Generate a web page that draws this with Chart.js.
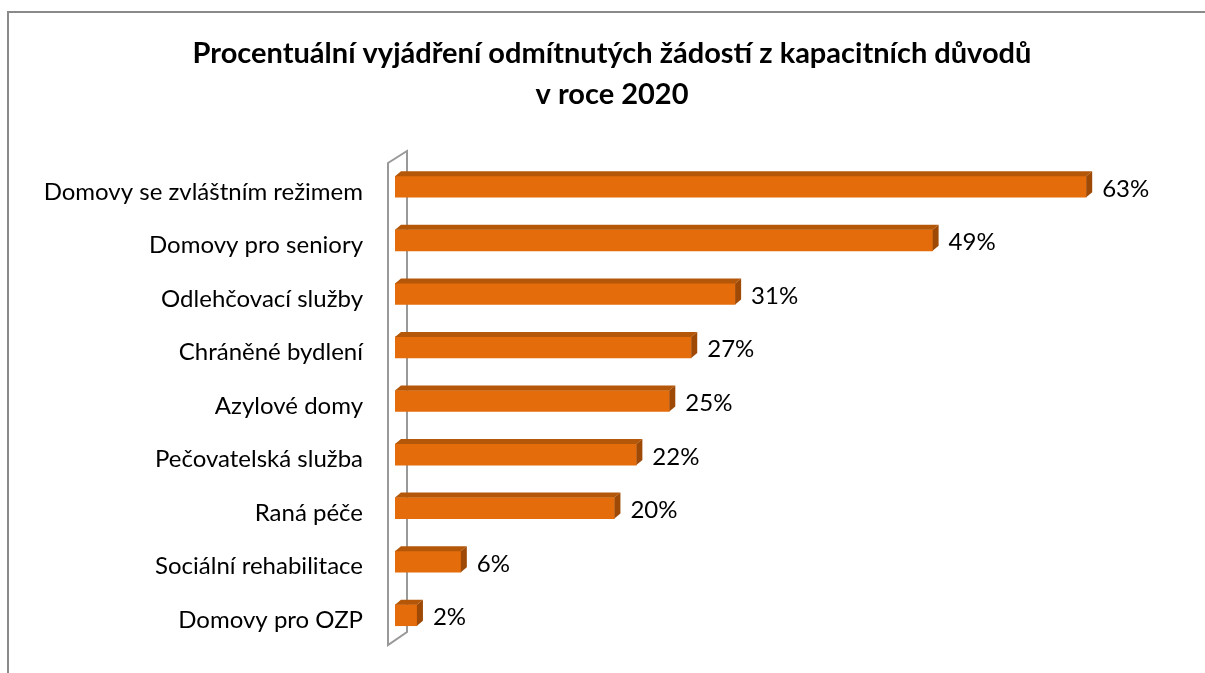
<!DOCTYPE html>
<html>
<head>
<meta charset="utf-8">
<script src="https://cdn.jsdelivr.net/npm/chart.js@4"></script>
<style>
  body { margin: 0; background: #fff; }
  #wrap { width: 1205px; height: 673px; position: relative; }
</style>
</head>
<body>
<div id="wrap"><canvas id="chart" width="1205" height="673"></canvas></div>
<script>
const categories = ['Domovy se zvláštním režimem', 'Domovy pro seniory', 'Odlehčovací služby', 'Chráněné bydlení', 'Azylové domy', 'Pečovatelská služba', 'Raná péče', 'Sociální rehabilitace', 'Domovy pro OZP'];
const values = [0.63, 0.49, 0.31, 0.27, 0.25, 0.22, 0.20, 0.06, 0.02];
const titleLines = ['Procentuální vyjádření odmítnutých žádostí z kapacitních důvodů', 'v roce 2020'];

const FRONT = '#E46C0A';
const TOP = '#B45708';
const SIDE = '#9E4A06';
const DX = 6, DY = 5;

// frame + title + back wall
const backdrop = {
    id: 'backdrop',
    beforeDatasetsDraw: function(chart) {
        const ctx = chart.ctx;
        const a = chart.chartArea;
        ctx.save();
        ctx.strokeStyle = '#8A8A8A';
        ctx.lineWidth = 2;
        ctx.beginPath();
        ctx.moveTo(8, 700);
        ctx.lineTo(8, 12);
        ctx.lineTo(1210, 12);
        ctx.stroke();

        ctx.fillStyle = '#000';
        ctx.font = 'bold 29px Lato';
        ctx.textAlign = 'center';
        ctx.textBaseline = 'alphabetic';
        ctx.fillText(titleLines[0], 612, 63);
        ctx.fillText(titleLines[1], 612, 104);

        ctx.strokeStyle = '#999';
        ctx.lineWidth = 2;
        ctx.beginPath();
        ctx.moveTo(a.left - 7, a.top + 3);
        ctx.lineTo(a.left + 12, a.top - 9);
        ctx.lineTo(a.left + 12, a.bottom - 10);
        ctx.lineTo(a.left - 7, a.bottom + 3);
        ctx.closePath();
        ctx.stroke();
        ctx.restore();
    }
};

// 3d faces + value labels
const bars3d = {
    id: 'bars3d',
    afterDatasetsDraw: function(chart) {
        const ctx = chart.ctx;
        const meta = chart.getDatasetMeta(0);
        ctx.save();
        meta.data.forEach(function(bar, i) {
            const x0 = bar.base, x1 = bar.x;
            const yT = bar.y - bar.height / 2, yB = bar.y + bar.height / 2;
            ctx.fillStyle = TOP;
            ctx.beginPath();
            ctx.moveTo(x0, yT);
            ctx.lineTo(x0 + DX, yT - DY);
            ctx.lineTo(x1 + DX, yT - DY);
            ctx.lineTo(x1, yT);
            ctx.closePath();
            ctx.fill();
            ctx.fillStyle = SIDE;
            ctx.beginPath();
            ctx.moveTo(x1, yT);
            ctx.lineTo(x1 + DX, yT - DY);
            ctx.lineTo(x1 + DX, yB - DY);
            ctx.lineTo(x1, yB);
            ctx.closePath();
            ctx.fill();

            ctx.fillStyle = '#000';
            ctx.font = '24px Lato';
            ctx.textAlign = 'left';
            ctx.textBaseline = 'alphabetic';
            ctx.fillText(Math.round(values[i] * 100) + '%', x1 + 16, bar.y + 10);
        });
        ctx.restore();
    }
};

new Chart(document.getElementById('chart'), {
    type: 'bar',
    data: {
        labels: categories,
        datasets: [{ data: values, backgroundColor: FRONT, borderWidth: 0, barThickness: 21 }]
    },
    options: {
        indexAxis: 'y',
        responsive: false,
        animation: false,
        layout: { padding: { top: 160, bottom: 31, right: 42, left: 0 } },
        plugins: { legend: { display: false }, tooltip: { enabled: false } },
        scales: {
            x: { display: false, min: 0, max: 0.7 },
            y: {
                grid: { display: false, drawTicks: false },
                border: { display: false },
                ticks: { color: '#000', font: { family: 'Lato', size: 24 }, padding: 32, labelOffset: 5 },
                afterFit: function(scale) {
                    scale.width = 395;
                    scale.paddingTop = 0;
                    scale.paddingBottom = 0;
                }
            }
        }
    },
    plugins: [backdrop, bars3d]
});
</script>
</body>
</html>
